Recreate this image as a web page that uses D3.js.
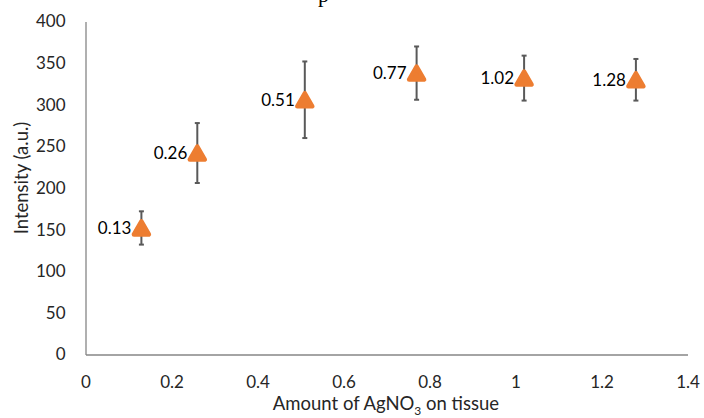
<!DOCTYPE html>
<html>
<head>
<meta charset="utf-8">
<script src="https://cdn.jsdelivr.net/npm/d3@7"></script>
<style>
  html, body { margin: 0; padding: 0; background: #fff; }
  svg { display: block; }
  text { font-family: Lato, "Open Sans", "Liberation Sans", sans-serif; }
</style>
</head>
<body>
<svg id="chart" width="704" height="418"></svg>
<script>
const amounts = [0.13, 0.26, 0.51, 0.77, 1.02, 1.28];
const intensity = [152, 242, 306, 338, 332, 330];
const errors = [20, 36, 46, 32, 27, 25];
const pointLabels = ["0.13", "0.26", "0.51", "0.77", "1.02", "1.28"];
const xTicks = [0, 0.2, 0.4, 0.6, 0.8, 1, 1.2, 1.4];
const yTicks = [0, 50, 100, 150, 200, 250, 300, 350, 400];

const svg = d3.select("#chart");
const x = d3.scaleLinear().domain([0, 1.4]).range([85.5, 687.5]);
const y = d3.scaleLinear().domain([0, 400]).range([354.5, 21.5]);
const axisColor = "#868686";
const textColor = "#262626";

// partially visible title (cut off at the top edge in the original)
svg.append("text").attr("x", 318).attr("y", 1.5)
  .style("font-family", "'Liberation Serif', serif")
  .attr("font-size", 22).attr("fill", "#000").text("p");

// axes
const xAxis = svg.append("g").attr("transform", `translate(0,${y(0)})`)
  .call(d3.axisBottom(x).tickValues(xTicks).tickSize(0).tickPadding(21).tickFormat(d => String(d)));
xAxis.select(".domain").attr("stroke", axisColor).attr("stroke-width", 1.3);
xAxis.selectAll("text").attr("font-size", 17).attr("fill", textColor);

const yAxis = svg.append("g").attr("transform", `translate(${x(0)},0)`)
  .call(d3.axisLeft(y).tickValues(yTicks).tickSize(0).tickPadding(20));
yAxis.select(".domain").attr("stroke", axisColor).attr("stroke-width", 1.3);
yAxis.selectAll("text").attr("font-size", 17).attr("fill", textColor);

// axis titles
const xt = svg.append("text").attr("x", 386).attr("y", 410).attr("text-anchor", "middle")
  .attr("font-size", 18.5).attr("fill", textColor);
xt.append("tspan").text("Amount of AgNO");
xt.append("tspan").attr("font-size", 12).attr("dy", 5).text("3");
xt.append("tspan").attr("dy", -5).text(" on tissue");

svg.append("text").attr("transform", `translate(28,${y(212)}) rotate(-90)`)
  .attr("text-anchor", "middle").attr("font-size", 18.5).attr("fill", textColor)
  .text("Intensity (a.u.)");

const data = amounts.map((a, i) => ({ a, v: intensity[i], e: errors[i], l: pointLabels[i] }));

// error bars
const eb = svg.append("g").attr("stroke", "#595959").attr("stroke-width", 2);
data.forEach(d => {
  const cx = x(d.a);
  eb.append("line").attr("x1", cx).attr("x2", cx).attr("y1", y(d.v + d.e)).attr("y2", y(d.v - d.e));
  eb.append("line").attr("x1", cx - 2.5).attr("x2", cx + 2.5).attr("y1", y(d.v + d.e)).attr("y2", y(d.v + d.e));
  eb.append("line").attr("x1", cx - 2.5).attr("x2", cx + 2.5).attr("y1", y(d.v - d.e)).attr("y2", y(d.v - d.e));
});

// markers
const tri = "M0,-6.5 L7.5,6.5 L-7.5,6.5 Z";
svg.append("g").selectAll("path").data(data).join("path")
  .attr("transform", d => `translate(${x(d.a)},${y(d.v)})`)
  .attr("d", tri)
  .attr("fill", "#ED7D31").attr("stroke", "#ED7D31")
  .attr("stroke-width", 4.5).attr("stroke-linejoin", "round");

// data labels
svg.append("g").selectAll("text").data(data).join("text")
  .attr("x", d => x(d.a) - 10).attr("y", d => y(d.v)).attr("dy", "0.36em")
  .attr("text-anchor", "end").attr("font-size", 17).attr("fill", "#000")
  .text(d => d.l);
</script>
</body>
</html>
